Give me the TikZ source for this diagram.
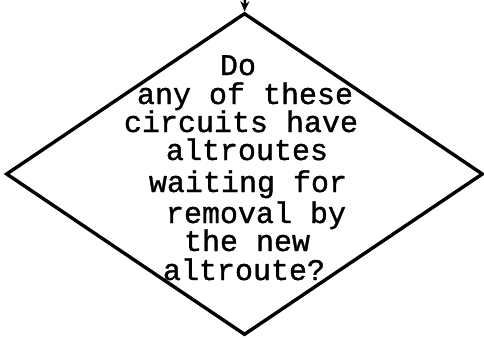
\documentclass[tikz,border=0pt]{standalone}
\usepackage{fontspec}
\newfontfamily\twfont[FakeBold=1.2]{Liberation Mono}
\usetikzlibrary{shapes.geometric,arrows.meta}
\tikzset{
  decbox/.style={shape=diamond, draw=black, line width=3.4pt, minimum width=477pt, minimum height=322pt, inner sep=0pt},
  txt/.style={anchor=base, inner sep=0pt, font=\twfont\fontsize{30}{30}\selectfont},
  flow/.style={draw=black, line width=2.5pt, -{Stealth[length=10pt,width=9pt]}}
}
\begin{document}
\begin{tikzpicture}[x=1pt,y=-1pt]
\useasboundingbox (0,0) rectangle (484,338);
\node[decbox] (dec) at (244.5,174) {};
\coordinate (src) at (245,-2);
\draw[flow] (src) -- (dec.north);
\node[txt] (l1) at (238,75) {Do};
\node[txt] (l2) at (245,104) {any of these};
\node[txt] (l3) at (241,132) {circuits have};
\node[txt] (l4) at (247,160) {altroutes};
\node[txt] (l5) at (248,192) {waiting for};
\node[txt] (l6) at (256,223) {removal by};
\node[txt] (l7) at (247,251) {the new};
\node[txt] (l8) at (244,280) {altroute?};
\end{tikzpicture}
\end{document}
